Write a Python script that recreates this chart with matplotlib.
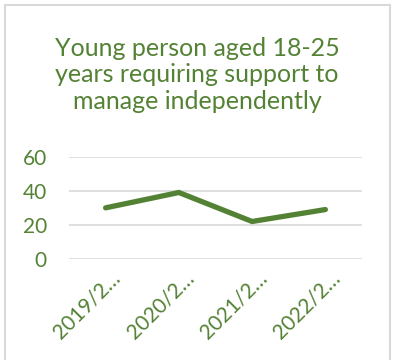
import matplotlib
matplotlib.use("Agg")
import matplotlib.pyplot as plt
from matplotlib.patches import Rectangle
from matplotlib.transforms import ScaledTranslation

categories = ["2019/2\u2026", "2020/2\u2026", "2021/2\u2026", "2022/2\u2026"]
values = [30, 39, 22, 29]
yticks = [0, 20, 40, 60]
title = "Young person aged 18-25\nyears requiring support to\nmanage independently"

green_text = "#548235"
green_line = "#548235"
grid_col = "#d9d9d9"

plt.rcParams["font.family"] = ["Lato", "DejaVu Sans"]

W, H = 395, 360
DPI = 100
fig = plt.figure(figsize=(W / DPI, H / DPI), dpi=DPI)
fig.patch.set_facecolor("white")

# outer chart frame
fig.patches.append(Rectangle((5 / W, -0.1), 385 / W, 1.1 - 5 / H,
                             transform=fig.transFigure, fill=False,
                             edgecolor="#d9d9d9", linewidth=1.5))

fig.text(197 / W, 1 - 75 / H, title, ha="center", va="center",
         color=green_text, fontsize=18, linespacing=1.2)

ax = fig.add_axes([69 / W, 1 - 259 / H, 293 / W, (259 - 156.7) / H])
x = list(range(len(categories)))
ax.plot(x, values, color=green_line, linewidth=3.8, solid_capstyle="round",
        solid_joinstyle="miter")
ax.set_xlim(-0.5, len(categories) - 0.5)
ax.set_ylim(0, 60)
ax.set_yticks(yticks)
ax.set_yticklabels([str(v) for v in yticks])
ax.set_xticks(x)
ax.set_xticklabels([])
ax.tick_params(axis="both", length=0, labelsize=15, colors=green_text)
ax.tick_params(axis="y", pad=16)
for s in ax.spines.values():
    s.set_visible(False)
ax.grid(axis="y", color=grid_col, linewidth=1.2)
ax.set_axisbelow(True)
ax.patch.set_alpha(0)

# rotated category labels, end of text sitting just right of each category
offset = ScaledTranslation(16 / DPI, -20 / DPI, fig.dpi_scale_trans)
for xi, lab in zip(x, categories):
    ax.text(xi, 0, lab, transform=ax.get_xaxis_transform() + offset,
            rotation=45, rotation_mode="anchor", ha="right", va="baseline",
            fontsize=15, color=green_text)

fig.savefig("out.png", dpi=DPI)
